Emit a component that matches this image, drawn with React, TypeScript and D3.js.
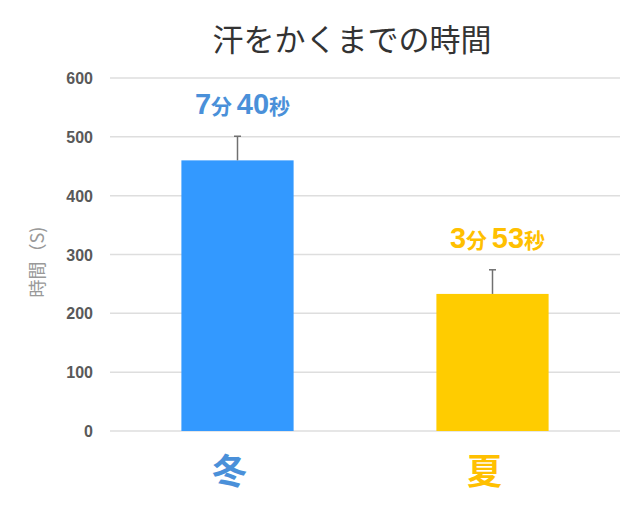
import React from "react";
import * as d3 from "d3";

const categories = ["冬", "夏"];
const values = [460, 233];
const errors = [41, 41];
const valueLabels = [["7分 ", "40", "秒"], ["3分 ", "53", "秒"]];
const barColors = ["#3399FF", "#FFCC00"];
const labelColors = ["#4A90D9", "#FFC000"];
const yTicks = [0, 100, 200, 300, 400, 500, 600];

const FONT = "'Noto Sans CJK JP', 'Noto Sans', sans-serif";
const NUM_FONT = "Arial, 'Liberation Sans', sans-serif";

export default function App() {
  const width = 640;
  const height = 522;
  const margin = { top: 78, right: 20, bottom: 91, left: 110 };

  const x = d3.scaleBand<string>()
    .domain(categories)
    .range([margin.left, width - margin.right])
    .paddingInner(0.56)
    .paddingOuter(0.28);

  const y = d3.scaleLinear()
    .domain([0, 600])
    .range([height - margin.bottom, margin.top]);

  return (
    <svg width={width} height={height} style={{ position: "absolute", left: 0, top: 0, fontFamily: FONT }}>
      <rect width={width} height={height} fill="#fff" />
      {/* タイトル */}
      <text x={352} y={51} textAnchor="middle" fontSize={31} fill="#333">
        汗をかくまでの時間
      </text>
      {/* グリッド線と目盛り */}
      {yTicks.map(t => (
        <g key={t}>
          <line x1={margin.left} x2={width - margin.right} y1={y(t)} y2={y(t)}
            stroke="#dedede" strokeWidth={1.5} />
          <text x={93} y={y(t) + 6} textAnchor="end" fontSize={16} fontWeight="bold"
            fill="#595959" fontFamily={NUM_FONT}>{t}</text>
        </g>
      ))}
      {/* Y軸ラベル */}
      <text transform="translate(44,262) rotate(-90)" textAnchor="middle" fontSize={18} fill="#999">
        時間（S)
      </text>
      {/* 棒とエラーバー */}
      {categories.map((c, i) => {
        const bx = x(c) ?? 0;
        const cx = bx + x.bandwidth() / 2;
        return (
          <g key={c}>
            <rect x={bx} y={y(values[i])} width={x.bandwidth()} height={y(0) - y(values[i])}
              fill={barColors[i]} />
            <line x1={cx} x2={cx} y1={y(values[i])} y2={y(values[i] + errors[i])}
              stroke="#707070" strokeWidth={1.5} />
            <line x1={cx - 3.5} x2={cx + 3.5} y1={y(values[i] + errors[i])} y2={y(values[i] + errors[i])}
              stroke="#707070" strokeWidth={1.5} />
            <text x={cx + 5} y={y(values[i]) - 46} textAnchor="middle" fill={labelColors[i]}
              fontWeight="bold" fontFamily={NUM_FONT}>
              <tspan fontSize={29}>{valueLabels[i][0][0]}</tspan>
              <tspan fontSize={21} fontFamily={FONT}>{valueLabels[i][0].slice(1)}</tspan>
              <tspan fontSize={29}>{valueLabels[i][1]}</tspan>
              <tspan fontSize={21} fontFamily={FONT}>{valueLabels[i][2]}</tspan>
            </text>
            <text x={cx - 8} y={484} textAnchor="middle" fontSize={35} fontWeight="bold"
              fill={labelColors[i]}>{c}</text>
          </g>
        );
      })}
    </svg>
  );
}
